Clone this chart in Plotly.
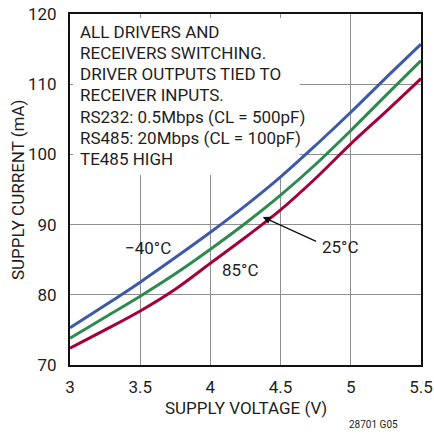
import plotly.graph_objects as go

voltage = [3.0, 3.25, 3.5, 3.75, 4.0, 4.25, 4.5, 4.75, 5.0, 5.25, 5.5]
current_m40 = [75.3, 78.5, 81.8, 85.3, 88.9, 92.7, 96.8, 101.3, 106.0, 110.9, 115.7]
current_25 = [73.8, 76.8, 79.8, 83.0, 86.5, 90.2, 94.2, 98.6, 103.4, 108.4, 113.35]
current_85 = [72.4, 75.0, 77.7, 80.8, 84.5, 88.2, 92.1, 96.6, 101.5, 106.1, 110.8]

x_ticks = [3, 3.5, 4, 4.5, 5, 5.5]
x_tick_labels = ["3", "3.5", "4", "4.5", "5", "5.5"]
y_ticks = [70, 80, 90, 100, 110, 120]

note_lines = [
    "ALL DRIVERS AND",
    "RECEIVERS SWITCHING.",
    "DRIVER OUTPUTS TIED TO",
    "RECEIVER INPUTS.",
    "RS232: 0.5Mbps (CL = 500pF)",
    "RS485: 20Mbps (CL = 100pF)",
    "TE485 HIGH",
]

FONT = "Roboto, Liberation Sans, sans-serif"
TXT = "#1e1e1e"
BLUE = "#3d5aa8"
GREEN = "#2e8a4e"
RED = "#a3003c"

# pixel helpers for layout placement (plot area: x 70..421.5, y 14..365)
def px_x(px):
    return 3 + (px - 70) / 140.6

def px_y(py):
    return 120 - (py - 14) / 7.02

fig = go.Figure()
fig.add_trace(go.Scatter(x=voltage, y=current_m40, mode="lines",
                         line=dict(color=BLUE, width=3, shape="spline", smoothing=1.0), name="-40°C"))
fig.add_trace(go.Scatter(x=voltage, y=current_25, mode="lines",
                         line=dict(color=GREEN, width=3, shape="spline", smoothing=1.0), name="25°C"))
fig.add_trace(go.Scatter(x=voltage, y=current_85, mode="lines",
                         line=dict(color=RED, width=3, shape="spline", smoothing=1.0), name="85°C"))

# white box behind note text (hides gridlines)
fig.add_shape(type="rect", xref="x", yref="y", x0=px_x(73), x1=px_x(300), y0=px_y(175), y1=px_y(18),
              fillcolor="white", line=dict(width=0), layer="between")

annotations = []
for i, t in enumerate(note_lines):
    ypx = 31.5 + 21.3 * i
    annotations.append(dict(x=px_x(78), y=px_y(ypx), xref="x", yref="y",
                            text=t, showarrow=False, xanchor="left", yanchor="middle",
                            font=dict(family=FONT, size=17, color=TXT)))

annotations += [
    dict(x=px_x(148.5), y=px_y(247.5), xref="x", yref="y", text="−40°C", showarrow=False,
         font=dict(family=FONT, size=17, color=TXT)),
    dict(x=px_x(241), y=px_y(270), xref="x", yref="y", text="85°C", showarrow=False,
         font=dict(family=FONT, size=17, color=TXT)),
    dict(x=px_x(341), y=px_y(247), xref="x", yref="y", text="25°C", showarrow=False,
         font=dict(family=FONT, size=17, color=TXT)),
    dict(x=px_x(263), y=px_y(217), xref="x", yref="y", text="",
         showarrow=True, arrowhead=2, arrowsize=1.2, arrowwidth=1.3, arrowcolor="#111",
         ax=px_x(318), ay=px_y(242), axref="x", ayref="y"),
    dict(x=(246 - 70) / 351.5, y=(365 - 408) / 351, xref="paper", yref="paper",
         text="SUPPLY VOLTAGE (V)", showarrow=False, yanchor="middle",
         font=dict(family=FONT, size=17, color=TXT)),
    dict(x=(18 - 70) / 351.5, y=(365 - 190) / 351, xref="paper", yref="paper",
         text="SUPPLY CURRENT (mA)", showarrow=False, textangle=-90, xanchor="center",
         yanchor="middle", font=dict(family=FONT, size=17, color=TXT)),
    dict(x=(400 - 70) / 351.5, y=(365 - 424) / 351, xref="paper", yref="paper",
         text="28701 G05", showarrow=False, yanchor="middle",
         font=dict(family=FONT, size=10, color=TXT)),
]

fig.update_layout(
    width=434, height=434,
    margin=dict(l=70, r=12.5, t=14, b=69, autoexpand=False),
    paper_bgcolor="white", plot_bgcolor="white",
    showlegend=False,
    annotations=annotations,
    font=dict(family=FONT, color=TXT),
)
fig.update_xaxes(range=[3, 5.5], tickvals=x_ticks, ticktext=x_tick_labels,
                 showgrid=True, gridcolor="#8f8f8f", gridwidth=1.3,
                 showline=True, linecolor="#111", linewidth=2, mirror=True,
                 ticks="", ticklabelstandoff=6, automargin=False,
                 tickfont=dict(family=FONT, size=17, color=TXT),
                 zeroline=False)
fig.update_yaxes(range=[70, 120], tickvals=y_ticks,
                 showgrid=True, gridcolor="#8f8f8f", gridwidth=1.3,
                 showline=True, linecolor="#111", linewidth=2, mirror=True,
                 ticks="", ticklabelstandoff=8, automargin=False,
                 tickfont=dict(family=FONT, size=17, color=TXT),
                 zeroline=False)

fig.write_html("out.html", config={"displayModeBar": False},
               post_script="document.body.style.margin='0';document.body.style.overflow='hidden';")
